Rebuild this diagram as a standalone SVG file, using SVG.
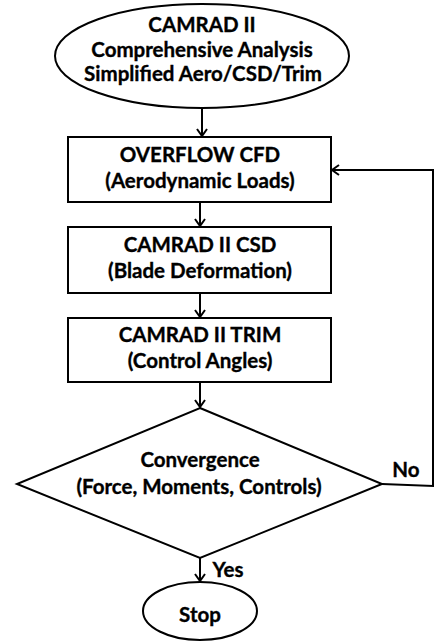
<svg xmlns="http://www.w3.org/2000/svg" width="436" height="641" viewBox="0 0 436 641">
<style>
.s{fill:#fff;stroke:#000;stroke-width:2}
.c{fill:none;stroke:#000;stroke-width:2;marker-end:url(#a)}
text{font-family:Lato,"Liberation Sans",sans-serif;font-weight:bold;font-size:20.5px;fill:#000;stroke:#000;stroke-width:0.35;text-anchor:middle}
</style>
<defs>
<marker id="a" markerWidth="12" markerHeight="12" refX="9" refY="6" orient="auto" markerUnits="userSpaceOnUse">
<path d="M2,1 L9,6 L2,11" fill="none" stroke="#000" stroke-width="2"/>
</marker>
</defs>
<g id="connectors">
<line class="c" x1="202" y1="108" x2="202" y2="136"/>
<line class="c" x1="200" y1="202" x2="200" y2="226"/>
<line class="c" x1="200" y1="293" x2="200" y2="317"/>
<line class="c" x1="200" y1="382" x2="200" y2="407"/>
<line class="c" x1="200" y1="558" x2="200" y2="581"/>
<polyline class="c" points="382,484 433,486 433,170 332,170"/>
</g>
<g id="start"><ellipse class="s" cx="202" cy="56" rx="147" ry="52"/>
<text x="202" y="32">CAMRAD II</text><text x="202" y="57">Comprehensive Analysis</text><text x="203" y="81">Simplified Aero/CSD/Trim</text></g>
<g id="overflow"><rect class="s" x="68" y="137" width="263" height="65"/>
<text x="200" y="162">OVERFLOW CFD</text><text x="200" y="188">(Aerodynamic Loads)</text></g>
<g id="csd"><rect class="s" x="68" y="227" width="263" height="66"/>
<text x="200" y="252">CAMRAD II CSD</text><text x="200" y="278">(Blade Deformation)</text></g>
<g id="trim"><rect class="s" x="68" y="318" width="263" height="64"/>
<text x="200" y="342">CAMRAD II TRIM</text><text x="200" y="368">(Control Angles)</text></g>
<g id="convergence"><polygon class="s" points="200,408 382,484 200,558 17,484"/>
<text x="200" y="467">Convergence</text><text x="199" y="494">(Force, Moments, Controls)</text></g>
<g id="stop"><ellipse class="s" cx="200" cy="611" rx="57" ry="29"/>
<text x="200" y="622">Stop</text></g>
<text x="406" y="477">No</text>
<text x="228" y="577">Yes</text>
</svg>
